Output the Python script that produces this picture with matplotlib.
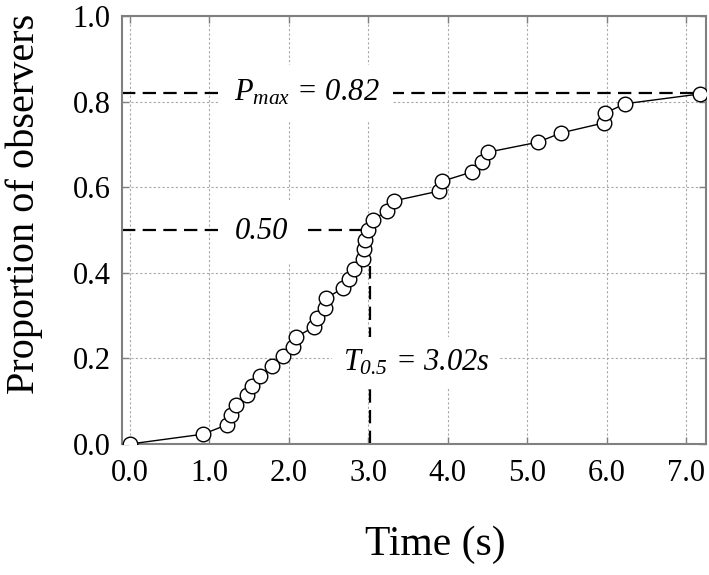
import matplotlib
matplotlib.use("Agg")
import matplotlib.pyplot as plt

# Data
time_s = [0.00, 0.92, 1.22, 1.27, 1.34, 1.47, 1.53, 1.63, 1.79, 1.93, 2.05, 2.09,
          2.31, 2.35, 2.45, 2.47, 2.68, 2.75, 2.82, 2.93, 2.94, 2.96, 3.00, 3.06,
          3.23, 3.32, 3.89, 3.93, 4.31, 4.43, 4.51, 5.13, 5.43, 5.96, 5.98, 6.23, 7.18]
proportion = [0.000, 0.023, 0.045, 0.068, 0.091, 0.114, 0.136, 0.159, 0.182, 0.205,
              0.227, 0.250, 0.273, 0.295, 0.318, 0.341, 0.364, 0.386, 0.409, 0.432,
              0.455, 0.477, 0.500, 0.523, 0.545, 0.568, 0.591, 0.614, 0.636, 0.659,
              0.682, 0.705, 0.727, 0.750, 0.773, 0.795, 0.818]
x_ticks = [0, 1, 2, 3, 4, 5, 6, 7]
x_tick_labels = ["0.0", "1.0", "2.0", "3.0", "4.0", "5.0", "6.0", "7.0"]
y_ticks = [0.0, 0.2, 0.4, 0.6, 0.8, 1.0]
y_tick_labels = ["0.0", "0.2", "0.4", "0.6", "0.8", "1.0"]
p_max = 0.82
p_half = 0.50
t_half = 3.02

plt.rcParams['font.family'] = ['Liberation Serif', 'DejaVu Serif']
plt.rcParams['mathtext.fontset'] = 'custom'
plt.rcParams['mathtext.rm'] = 'Liberation Serif:italic'
plt.rcParams['mathtext.it'] = 'Liberation Serif:italic'

W, H = 709, 575
fig = plt.figure(figsize=(W / 100, H / 100), dpi=100)
left, right, top, bottom = 121.7, 706, 16, 444
ax = fig.add_axes([left / W, 1 - bottom / H, (right - left) / W, (bottom - top) / H])

ax.set_xlim(-0.105, 7.25)
ax.set_ylim(0, 1.0)

ax.grid(True, color='#a8a8a8', linestyle=(0, (2, 2)), linewidth=0.8, zorder=0)
ax.set_axisbelow(True)

dash = (0, (6, 3.3))
lw_d = 1.6
# P_max line
ax.plot([-0.105, 7.18], [p_max, p_max], color='black', linestyle=dash, lw=lw_d, zorder=2)
# 0.50 line
ax.plot([-0.105, 2.93], [p_half, p_half], color='black', linestyle=dash, lw=lw_d, zorder=2)
# T_0.5 vertical line
ax.plot([t_half, t_half], [0, 0.415], color='black', linestyle=dash, lw=lw_d, zorder=2)

ax.plot(time_s, proportion, color='black', lw=1.0, marker='o', markersize=10.5,
        markerfacecolor='white', markeredgecolor='black', markeredgewidth=1.0, zorder=5)

ann_fs = 22
ax.text(2.22, p_max, r"$P_{max}$ = 0.82", fontsize=ann_fs, fontstyle='italic',
        ha='center', va='center', bbox=dict(facecolor='white', edgecolor='none', boxstyle='square,pad=0.45'), zorder=3)
ax.text(1.65, p_half - 0.004, "0.50", fontsize=ann_fs, fontstyle='italic',
        ha='center', va='center', bbox=dict(facecolor='white', edgecolor='none', boxstyle='square,pad=0.55'), zorder=3)
ax.text(3.6, 0.19, r"$T_{0.5}$ = 3.02s", fontsize=ann_fs, fontstyle='italic',
        ha='center', va='center', bbox=dict(facecolor='white', edgecolor='none', boxstyle='square,pad=0.35'), zorder=3)

ax.set_xticks(x_ticks)
ax.set_xticklabels(x_tick_labels)
ax.set_yticks(y_ticks)
ax.set_yticklabels(y_tick_labels)
ax.tick_params(axis='both', which='both', direction='in', length=5, width=1.0,
               color='#808080', labelsize=22, top=True, right=True)
ax.tick_params(axis='x', pad=11)
ax.tick_params(axis='y', pad=8)

for s in ax.spines.values():
    s.set_color('#808080')
    s.set_linewidth(1.5)

ax.set_xlabel("Time (s)", fontsize=30)
ax.set_ylabel("Proportion of observers", fontsize=29)
ax.xaxis.set_label_coords(0.536, -0.19)
ax.yaxis.set_label_coords(-0.135, 0.56)

fig.savefig("out.png", dpi=100)
